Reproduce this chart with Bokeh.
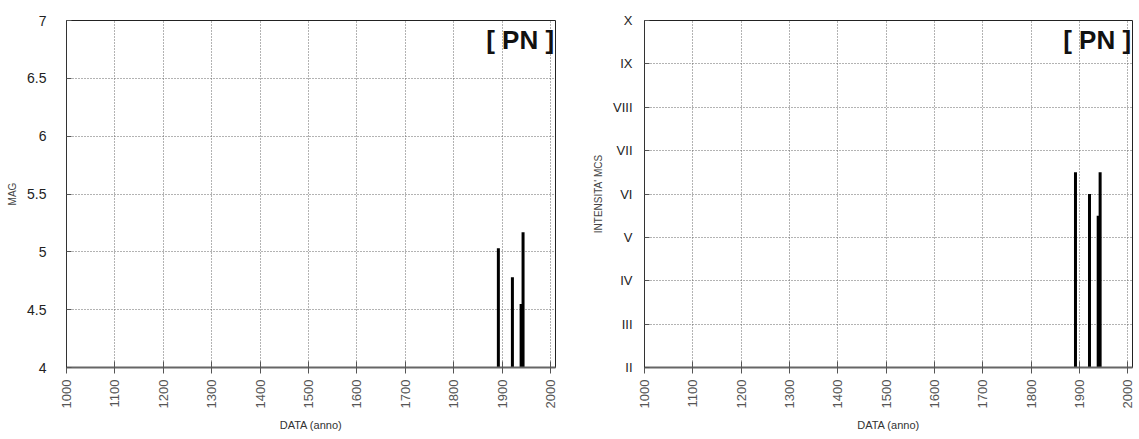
from bokeh.plotting import figure
from bokeh.layouts import row
from bokeh.models import ColumnDataSource, FixedTicker, Label, Range1d
from bokeh.embed import file_html
from bokeh.resources import INLINE

# Earthquake records: year, magnitude and MCS intensity
years = [1892, 1921, 1939, 1943]
magnitudes = [5.03, 4.78, 4.55, 5.17]
intensities = [6.5, 6.0, 5.5, 6.5]

x_ticks = [1000, 1100, 1200, 1300, 1400, 1500, 1600, 1700, 1800, 1900, 2000]
mag_ticks = [4, 4.5, 5, 5.5, 6, 6.5, 7]
mag_tick_labels = ["4", "4.5", "5", "5.5", "6", "6.5", "7"]
mcs_ticks = [2, 3, 4, 5, 6, 7, 8, 9, 10]
mcs_tick_labels = ["II", "III", "IV", "V", "VI", "VII", "VIII", "IX", "X"]

station = "[ PN ]"
x_title = "DATA (anno)"

FONT = "Liberation Sans"


def base_figure(width, border_left, border_right, y_range, y_title):
    p = figure(width=width, height=439, output_backend="svg", toolbar_location=None,
               x_range=Range1d(1000, 2010), y_range=y_range,
               min_border_left=border_left, min_border_right=border_right,
               min_border_top=20, min_border_bottom=72)
    p.background_fill_color = "white"
    p.border_fill_color = "white"
    p.outline_line_color = "#222222"
    p.outline_line_width = 1

    p.xaxis.ticker = FixedTicker(ticks=x_ticks)
    p.xaxis.major_label_orientation = 1.5708
    p.xaxis.major_label_text_font = FONT
    p.xaxis.major_label_text_font_size = "13px"
    p.xaxis.major_label_text_color = "#555555"
    p.xaxis.major_label_standoff = 6
    p.xaxis.axis_line_color = "#666666"
    p.xaxis.axis_line_width = 2
    p.xaxis.major_tick_in = 6
    p.xaxis.major_tick_out = 6
    p.xaxis.major_tick_line_color = "#555555"
    p.xaxis.minor_tick_line_color = None
    p.xaxis.axis_label = x_title
    p.xaxis.axis_label_text_font = FONT
    p.xaxis.axis_label_text_font_size = "11px"
    p.xaxis.axis_label_text_font_style = "normal"
    p.xaxis.axis_label_text_color = "#333333"
    p.xaxis.axis_label_standoff = 8

    p.yaxis.axis_line_color = "#333333"
    p.yaxis.major_tick_in = 5
    p.yaxis.major_tick_out = 0
    p.yaxis.major_tick_line_color = "#555555"
    p.yaxis.minor_tick_line_color = None
    p.yaxis.major_label_text_color = "#222222"
    p.yaxis.axis_label = y_title
    p.yaxis.axis_label_text_font = FONT
    p.yaxis.axis_label_text_font_size = "10px"
    p.yaxis.axis_label_text_font_style = "normal"
    p.yaxis.axis_label_text_color = "#444444"
    p.yaxis.axis_label_standoff = 6

    p.grid.grid_line_color = "#666666"
    p.grid.grid_line_dash = "1 2"
    p.grid.grid_line_width = 1
    return p


# Magnitude panel
left = base_figure(570, 66, 15, Range1d(4, 7), "MAG")
left.yaxis.ticker = FixedTicker(ticks=mag_ticks)
left.yaxis.major_label_overrides = dict(zip(mag_ticks, mag_tick_labels))
left.yaxis.major_label_text_font = FONT
left.yaxis.major_label_text_font_size = "14px"
left.yaxis.major_label_standoff = 20

src_mag = ColumnDataSource(dict(x=years, y0=[4] * len(years), y1=magnitudes))
left.segment(x0="x", y0="y0", x1="x", y1="y1", source=src_mag,
             line_color="black", line_width=3)
left.add_layout(Label(x=2007, y=6.83, text=station, text_align="right",
                      text_baseline="middle", text_font=FONT,
                      text_font_size="26px", text_font_style="bold",
                      text_color="#111111"))

# Intensity panel
right = base_figure(569, 74, 7, Range1d(2, 10), "INTENSITA' MCS")
right.yaxis.ticker = FixedTicker(ticks=mcs_ticks)
right.yaxis.major_label_overrides = dict(zip(mcs_ticks, mcs_tick_labels))
right.yaxis.major_label_text_font = FONT
right.yaxis.major_label_text_font_size = "13px"
right.yaxis.major_label_standoff = 12

src_mcs = ColumnDataSource(dict(x=years, y0=[2] * len(years), y1=intensities))
right.segment(x0="x", y0="y0", x1="x", y1="y1", source=src_mcs,
              line_color="black", line_width=3)
right.add_layout(Label(x=2007, y=9.54, text=station, text_align="right",
                       text_baseline="middle", text_font=FONT,
                       text_font_size="26px", text_font_style="bold",
                       text_color="#111111"))

layout = row(left, right, spacing=0)
open("out.html", "w").write(file_html(layout, INLINE))
